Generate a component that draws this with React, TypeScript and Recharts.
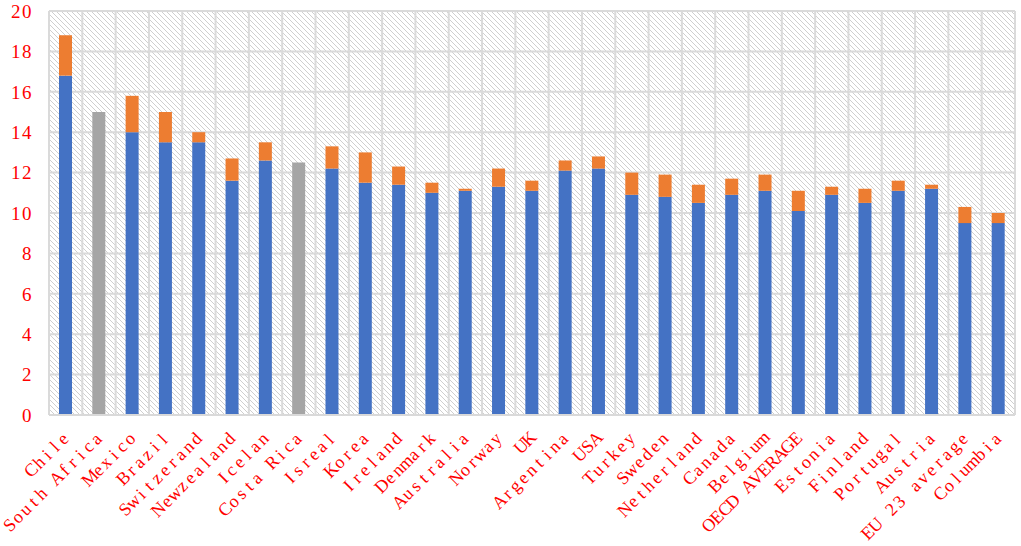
import React from "react";
import { BarChart, Bar, XAxis, YAxis, CartesianGrid } from "recharts";

const countries = [
  "Chile", "South Africa", "Mexico", "Brazil", "Switzerand", "Newzealand", "Icelan", "Costa Rica",
  "Isreal", "Korea", "Ireland", "Denmark", "Australia", "Norway", "UK", "Argentina", "USA",
  "Turkey", "Sweden", "Netherland", "Canada", "Belgium", "OECD AVERAGE", "Estonia", "Finland",
  "Portugal", "Austria", "EU 23 average", "Columbia",
];
// blue segment (base)
const baseValues = [
  16.8, 0, 14.0, 13.5, 13.5, 11.6, 12.6, 0,
  12.2, 11.5, 11.4, 11.0, 11.1, 11.3, 11.1, 12.1, 12.2,
  10.9, 10.8, 10.5, 10.9, 11.1, 10.1, 10.9, 10.5,
  11.1, 11.2, 9.5, 9.5,
];
// totals (top of orange segment)
const totalValues = [
  18.8, 0, 15.8, 15.0, 14.0, 12.7, 13.5, 0,
  13.3, 13.0, 12.3, 11.5, 11.2, 12.2, 11.6, 12.6, 12.8,
  12.0, 11.9, 11.4, 11.7, 11.9, 11.1, 11.3, 11.2,
  11.6, 11.4, 10.3, 10.0,
];
// grey bars (single value)
const greyValues = [0, 15.0, 0, 0, 0, 0, 0, 12.5, 0, 0, 0, 0, 0, 0, 0, 0, 0, 0, 0, 0, 0, 0, 0, 0, 0, 0, 0, 0, 0];
const yTicks = [0, 2, 4, 6, 8, 10, 12, 14, 16, 18, 20];

const data = countries.map((name, i) => ({
  name,
  base: baseValues[i],
  extra: +(totalValues[i] - baseValues[i]).toFixed(2),
  grey: greyValues[i],
}));

const CELL = 11.1; // monospace character cell for category labels

const XTick = (props: any) => {
  const { x, y, payload } = props;
  const ax = x + 5;
  const ay = y + 16;
  const label = String(payload.value);
  const n = label.length;
  const xs = Array.from(label).map((_, i) => (ax - (n - i - 0.5) * CELL).toFixed(2)).join(" ");
  return (
    <text
      x={xs}
      y={ay}
      transform={`rotate(-45, ${ax}, ${ay})`}
      textAnchor="middle"
      fill="#ff0000"
      fontFamily="'Liberation Serif', serif"
      fontSize={18}
      style={{ whiteSpace: "pre" }}
    >
      {label}
    </text>
  );
};

const vGen = (p: any) => {
  const { offset } = p;
  const n = countries.length;
  const arr: number[] = [];
  for (let i = 0; i <= n; i++) arr.push(offset.left + (offset.width * i) / n);
  return arr;
};

export default function App() {
  return (
    <div style={{ position: "absolute", left: 0, top: 0, width: 1021, height: 546, background: "#fff" }}>
      <BarChart
        width={1021}
        height={546}
        data={data}
        margin={{ top: 11, right: 6, bottom: 0, left: 0 }}
        barCategoryGap={0}
      >
        <defs>
          <pattern id="hatch" patternUnits="userSpaceOnUse" width="5" height="5">
            <rect width="5" height="5" fill="#ffffff" />
            <path d="M-1,-1 L6,6 M-1,4 L1,6 M4,-1 L6,1" stroke="#c9c9c9" strokeWidth="0.9" />
          </pattern>
        </defs>
        <CartesianGrid
          fill="url(#hatch)"
          stroke="#dadada"
          strokeWidth={2}
          verticalCoordinatesGenerator={vGen}
        />
        <XAxis
          dataKey="name"
          interval={0}
          tick={<XTick />}
          tickLine={false}
          axisLine={{ stroke: "#d9d9d9", strokeWidth: 2 }}
          height={131}
        />
        <YAxis
          domain={[0, 20]}
          ticks={yTicks}
          width={49}
          axisLine={false}
          tickLine={false}
          tickMargin={10}
          tick={{ fill: "#ff0000", fontFamily: "'Liberation Serif', serif", fontSize: 19, letterSpacing: 1.5 }}
        />
        <Bar dataKey="base" stackId="a" fill="#4472C4" barSize={13} isAnimationActive={false} />
        <Bar dataKey="extra" stackId="a" fill="#ED7D31" barSize={13} isAnimationActive={false} />
        <Bar dataKey="grey" stackId="a" fill="#A5A5A5" barSize={13} isAnimationActive={false} />
      </BarChart>
    </div>
  );
}
